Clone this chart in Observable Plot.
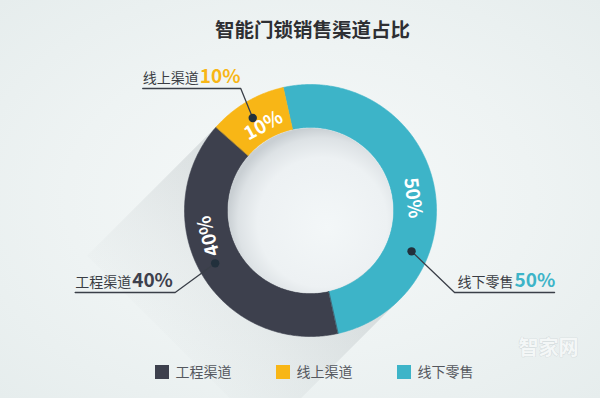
<!DOCTYPE html>
<html><head><meta charset="utf-8">
<script src="https://cdn.jsdelivr.net/npm/d3@7"></script>
<script src="https://cdn.jsdelivr.net/npm/@observablehq/plot@0.6"></script>
<style>
html,body{margin:0;padding:0;width:600px;height:398px;overflow:hidden;
background:radial-gradient(ellipse at 50% 50%, #f6f9f9 0%, #eef3f3 55%, #e6eded 100%);}
#chart svg{display:block;}
</style></head><body><div id="chart"></div>
<script>
// ---- data ----
const title = "智能门锁销售渠道占比";
const categories = ["线下零售", "工程渠道", "线上渠道"];   // drawing order, clockwise
const values = [50, 40, 10];
const colors = ["#3db4c8", "#3d404d", "#f8b616"];
const legendOrder = ["工程渠道", "线上渠道", "线下零售"];
const watermark = "智家网";

// ---- layout ----
const W = 600, H = 398, CX = 310, CY = 210, RO = 126, RI = 83;
const START = -12.5 * Math.PI / 180;
const deg = Math.PI / 180;
const DOT_R = 109;
const callout = {
  "线下零售": {labelAt: 83, labelR: 103, dotAt: 112, elbowDx: 43, lineY: 292, len: 100},
  "工程渠道": {labelAt: 256, labelR: 105, dotAt: 241, elbowDx: -40, lineY: 292, len: 100},
  "线上渠道": {labelAt: 331, labelR: 97, dotAt: 328, elbowDx: -12, lineY: 88, len: 98}
};
const FONT = "'Noto Sans CJK SC', 'Noto Sans', sans-serif";

const rows = categories.map((c, i) => ({name: c, value: values[i], color: colors[i]}));
const total = d3.sum(values);
const arcs = d3.pie().sort(null).value(d => d.value).startAngle(START).endAngle(START + 2 * Math.PI)(rows);
const px = (r, a) => CX + r * Math.sin(a);
const py = (r, a) => CY - r * Math.cos(a);

function ring(a0, a1) {
  const n = Math.max(8, Math.ceil((a1 - a0) / 0.01));
  const pts = [];
  for (let k = 0; k <= n; k++) { const a = a0 + (a1 - a0) * k / n; pts.push({x: px(RO, a), y: py(RO, a)}); }
  for (let k = n; k >= 0; k--) { const a = a0 + (a1 - a0) * k / n; pts.push({x: px(RI, a), y: py(RI, a)}); }
  return pts;
}

// long shadow polygon (down-left)
const s = 1 / Math.SQRT2, L = 190;
const shadow = [
  {x: CX + RO * s, y: CY + RO * s},
  {x: CX - RO * s, y: CY - RO * s},
  {x: CX - RO * s - L * s, y: CY - RO * s + L * s},
  {x: CX + RO * s - L * s, y: CY + RO * s + L * s}
];

const sliceMarks = arcs.map(a => Plot.line(ring(a.startAngle, a.endAngle),
  {x: "x", y: "y", fill: a.data.color, stroke: a.data.color, strokeWidth: 0.6, curve: "linear-closed"}));

const pctRows = arcs.map(a => {
  const c = callout[a.data.name];
  return {name: a.data.name, text: Math.round(a.data.value / total * 100) + "%",
    x: px(c.labelR, c.labelAt * deg), y: py(c.labelR, c.labelAt * deg), rot: c.labelAt};
});

const leaders = [], dots = [], nameLabels = [], pctLabels = [];
arcs.forEach(a => {
  const c = callout[a.data.name];
  const dx = px(DOT_R, c.dotAt * deg), dy = py(DOT_R, c.dotAt * deg);
  const ex = dx + c.elbowDx, ey = c.lineY;
  const dir = Math.sign(c.elbowDx);
  const fx = ex + dir * c.len;
  leaders.push([{x: dx, y: dy}, {x: ex, y: ey}, {x: fx, y: ey}]);
  dots.push({x: dx, y: dy});
  const left = Math.min(ex, fx) + (dir > 0 ? 3 : 0);
  nameLabels.push({x: left, y: ey - 6, text: a.data.name});
  pctLabels.push({x: left + a.data.name.length * 14 + 1, y: ey - 6,
    text: Math.round(a.data.value / total * 100) + "%", color: a.data.color});
});

const legendRows = legendOrder.map((n, i) => ({name: n, color: colors[categories.indexOf(n)], x: 155 + i * 121, y: 372}));

const chart = Plot.plot({
  width: W, height: H, margin: 0,
  x: {domain: [0, W], range: [0, W], axis: null},
  y: {domain: [0, H], range: [0, H], axis: null},
  style: {background: "transparent", fontFamily: FONT},
  marks: [
    Plot.line(shadow, {x: "x", y: "y", fill: "url(#shadowGrad)", stroke: "none", curve: "linear-closed"}),
    ...sliceMarks,
    Plot.dot([{x: CX, y: CY}], {x: "x", y: "y", r: RI - 0.5, fill: "url(#innerGrad)", stroke: "none"}),
    Plot.text(pctRows, {x: "x", y: "y", text: "text", rotate: "rot", fill: "white", fontSize: 19, fontWeight: "bold"}),
    ...leaders.map(l => Plot.line(l, {x: "x", y: "y", stroke: "#3a3f48", strokeWidth: 1.3})),
    Plot.dot(dots, {x: "x", y: "y", r: 4.2, fill: "#22303c"}),
    Plot.text(nameLabels, {x: "x", y: "y", text: "text", textAnchor: "start", lineAnchor: "bottom", fontSize: 14, fill: "#3a3d44"}),
    Plot.text(pctLabels, {x: "x", y: "y", text: "text", textAnchor: "start", lineAnchor: "bottom", fontSize: 19, fontWeight: "bold", fill: d => d.color}),
    Plot.text([title], {x: () => 312, y: () => 30, text: d => d, fontSize: 19.5, fontWeight: "bold", fill: "#2e2f33"}),
    Plot.rect(legendRows, {x1: d => d.x, x2: d => d.x + 14, y1: d => d.y - 7, y2: d => d.y + 7, fill: "color"}),
    Plot.text(legendRows, {x: d => d.x + 20, y: "y", text: "name", textAnchor: "start", fontSize: 14, fill: "#55585e"}),
    Plot.text([watermark], {x: () => 548, y: () => 348, text: d => d, fontSize: 20, fill: "#f4f7f7", stroke: "#cdd4d6", strokeWidth: 0.7, fontWeight: "bold"})
  ]
});

const ns = "http://www.w3.org/2000/svg";
const defs = document.createElementNS(ns, "defs");
defs.innerHTML = `
<linearGradient id="shadowGrad" gradientUnits="userSpaceOnUse" x1="${CX}" y1="${CY}" x2="${CX - 150}" y2="${CY + 150}">
  <stop offset="0" stop-color="#7d878c" stop-opacity="0.24"/>
  <stop offset="0.6" stop-color="#7d878c" stop-opacity="0.08"/>
  <stop offset="1" stop-color="#7d878c" stop-opacity="0"/>
</linearGradient>
<radialGradient id="innerGrad" cx="0.56" cy="0.56" r="0.56" fx="0.6" fy="0.6">
  <stop offset="0" stop-color="#f3f7f8"/>
  <stop offset="0.7" stop-color="#edf1f3"/>
  <stop offset="0.9" stop-color="#dde2e5"/>
  <stop offset="1" stop-color="#c9cfd3"/>
</radialGradient>`;
chart.insertBefore(defs, chart.firstChild);
document.getElementById("chart").appendChild(chart);
</script>
</body></html>
